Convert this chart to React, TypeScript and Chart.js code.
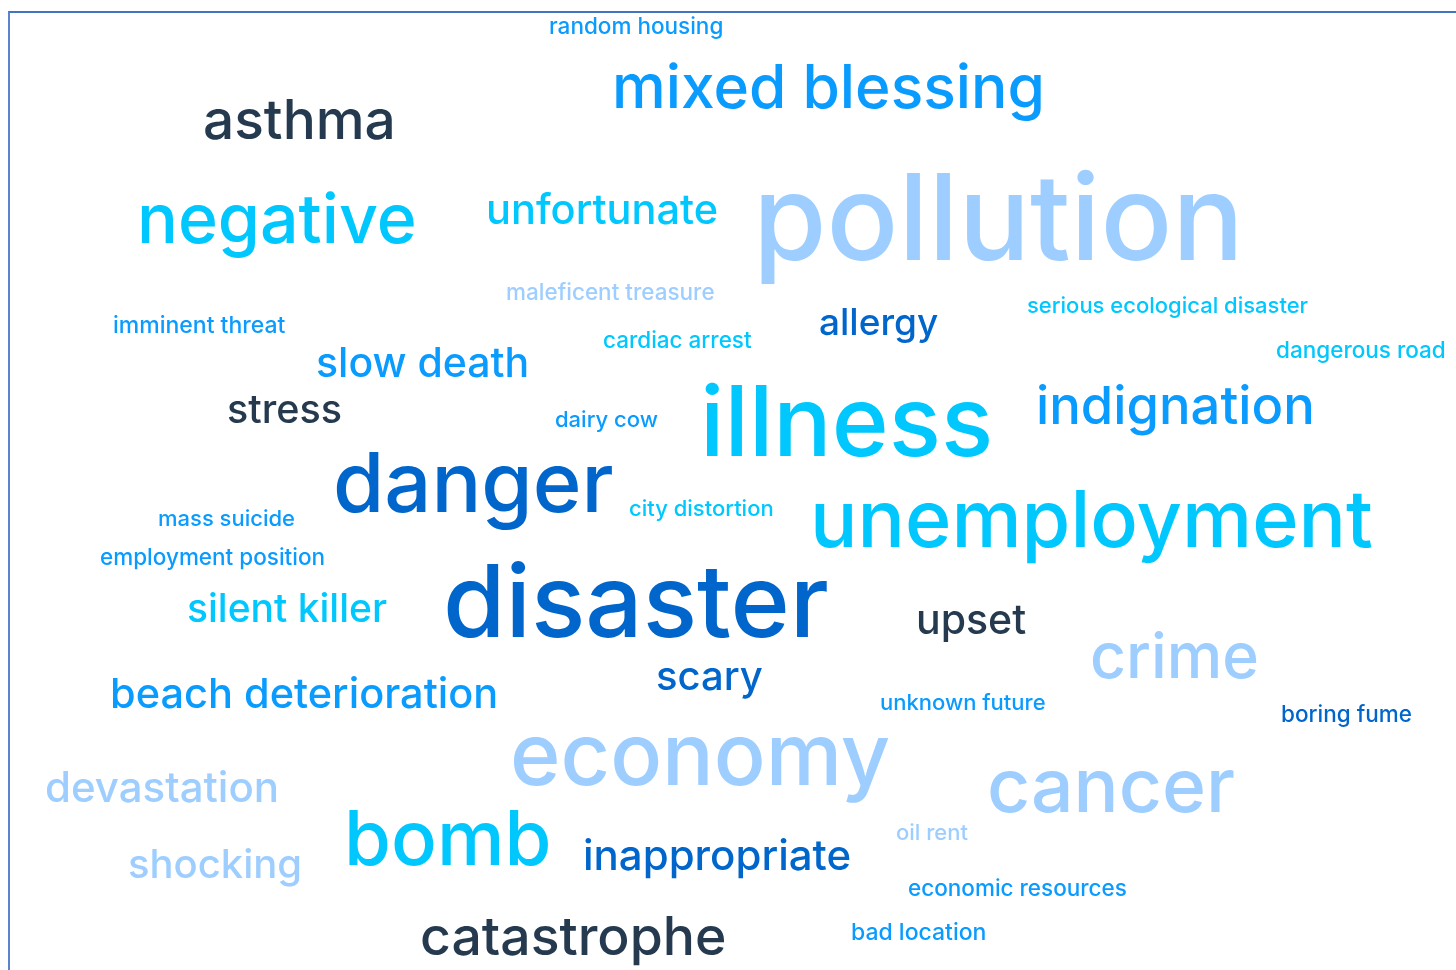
import { useEffect, useRef } from "react";
import { Chart, registerables } from "chart.js";

Chart.register(...registerables);

// Word cloud terms
const words: string[] = [
  "random housing", "mixed blessing", "asthma", "negative", "unfortunate", "pollution",
  "maleficent treasure", "imminent threat", "cardiac arrest", "allergy", "serious ecological disaster",
  "dangerous road", "slow death", "stress", "dairy cow", "illness", "indignation", "danger",
  "city distortion", "unemployment", "mass suicide", "employment position", "silent killer",
  "disaster", "upset", "crime", "scary", "beach deterioration", "unknown future", "boring fume",
  "economy", "devastation", "cancer", "oil rent", "bomb", "shocking", "inappropriate",
  "economic resources", "catastrophe", "bad location",
];
// Relative weight of each term (rendered as font size in px)
const weights: number[] = [
  22.5, 60.5, 55, 68, 41.5, 119,
  22.5, 23, 22.5, 37, 22,
  22.5, 41, 39.5, 22, 97, 52.5, 83,
  22, 79, 22, 22.5, 39,
  101, 41, 62.5, 40, 41.5, 22, 22.5,
  86, 42, 75, 22, 76, 40, 42,
  22.5, 53.5, 23,
];
// Layout coordinates of each term (left edge, baseline) in cloud units
const xs: number[] = [
  549, 612, 203, 137, 486, 753,
  506, 113, 603, 819, 1027,
  1276, 316, 227, 555, 700, 1036, 333,
  629, 810, 158, 100, 187,
  443, 916, 1090, 656, 110, 880, 1281,
  510, 45, 987, 896, 344, 128, 583,
  908, 420, 851,
];
const ys: number[] = [
  34, 108, 139, 243, 224, 260,
  300, 333, 348, 335, 313,
  358, 377, 423, 427, 456, 424, 512,
  516, 547, 526, 565, 622,
  637, 634, 678, 690, 708, 710, 722,
  785, 802, 812, 840, 865, 878, 870,
  896, 955, 940,
];
// Colour group of each term
const tones: string[] = [
  "blue", "blue", "dark", "cyan", "cyan", "light",
  "light", "blue", "cyan", "navy", "cyan",
  "cyan", "blue", "dark", "blue", "cyan", "blue", "navy",
  "cyan", "cyan", "blue", "blue", "cyan",
  "navy", "dark", "light", "navy", "blue", "blue", "navy",
  "light", "light", "light", "light", "cyan", "light", "navy",
  "blue", "dark", "blue",
];

const palette: Record<string, string> = {
  dark: "#263a4f",
  navy: "#0066cc",
  blue: "#0a9bff",
  cyan: "#00c8ff",
  light: "#9dceff",
};

const FONT = "Inter, 'Open Sans', 'DejaVu Sans', sans-serif";

const wordPlugin = {
  id: "wordCloudText",
  afterDatasetsDraw(chart: any) {
    const ctx = chart.ctx as CanvasRenderingContext2D;
    const meta = chart.getDatasetMeta(0);
    ctx.save();
    ctx.textAlign = "left";
    ctx.textBaseline = "alphabetic";
    meta.data.forEach((pt: any, i: number) => {
      ctx.font = `500 ${weights[i]}px ${FONT}`;
      ctx.fillStyle = palette[tones[i]];
      ctx.fillText(words[i], pt.x, pt.y);
    });
    ctx.restore();
  },
};

export default function App() {
  const ref = useRef<HTMLCanvasElement | null>(null);
  useEffect(() => {
    if (!ref.current) return;
    const chart = new Chart(ref.current, {
      type: "scatter",
      data: {
        datasets: [
          {
            data: words.map((_, i) => ({ x: xs[i], y: ys[i] })),
            pointRadius: 0,
            pointHoverRadius: 0,
          },
        ],
      },
      options: {
        animation: false,
        responsive: true,
        maintainAspectRatio: false,
        layout: { padding: 0 },
        plugins: { legend: { display: false }, tooltip: { enabled: false } },
        scales: {
          x: { type: "linear", min: 0, max: 1456, display: false },
          y: { type: "linear", min: 0, max: 970, reverse: true, display: false },
        },
      },
      plugins: [wordPlugin],
    });
    return () => chart.destroy();
  }, []);

  return (
    <div style={{ position: "fixed", left: 0, top: 0, width: 1456, height: 970, background: "#fff", overflow: "hidden" }}>
      <div
        style={{
          position: "absolute",
          left: 8,
          top: 11,
          width: 1460,
          height: 970,
          borderTop: "2px solid #4472c4",
          borderLeft: "2px solid #5b84cf",
        }}
      />
      <canvas ref={ref} style={{ position: "absolute", left: 0, top: 0, width: 1456, height: 970 }} />
    </div>
  );
}
